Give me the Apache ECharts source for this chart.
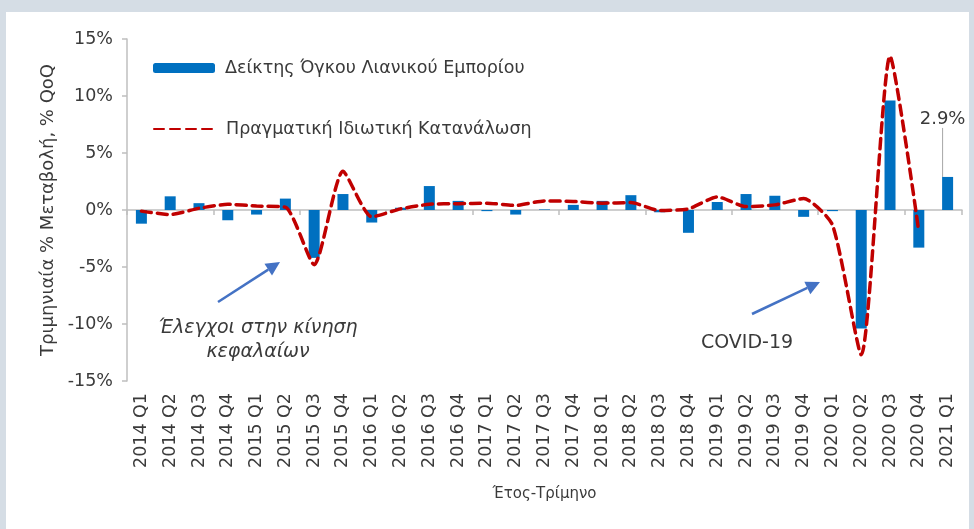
<!DOCTYPE html>
<html>
<head>
<meta charset="utf-8">
<script src="https://cdn.jsdelivr.net/npm/echarts@6/dist/echarts.min.js"></script>
<style>
  html, body { margin: 0; padding: 0; background: #d5dde5; }
  #main {
    position: absolute;
    left: 6px;
    top: 12px;
    width: 963px;
    height: 517px;
    background: #ffffff;
  }
</style>
</head>
<body>
<div id="main"></div>
<script>
// quarters
const quarters = [
  '2014 Q1', '2014 Q2', '2014 Q3', '2014 Q4',
  '2015 Q1', '2015 Q2', '2015 Q3', '2015 Q4',
  '2016 Q1', '2016 Q2', '2016 Q3', '2016 Q4',
  '2017 Q1', '2017 Q2', '2017 Q3', '2017 Q4',
  '2018 Q1', '2018 Q2', '2018 Q3', '2018 Q4',
  '2019 Q1', '2019 Q2', '2019 Q3', '2019 Q4',
  '2020 Q1', '2020 Q2', '2020 Q3', '2020 Q4',
  '2021 Q1'
]
// Δείκτης Όγκου Λιανικού Εμπορίου (% QoQ)
const retailVolume = [
  -1.2, 1.2, 0.6, -0.9,
  -0.4, 1.0, -4.2, 1.4,
  -1.1, 0.2, 2.1, 0.8,
  -0.1, -0.4, 0.05, 0.45,
  0.8, 1.3, -0.2, -2.0,
  0.7, 1.4, 1.25, -0.6,
  -0.1, -10.4, 9.6, -3.3,
  2.9
]
// Πραγματική Ιδιωτική Κατανάλωση (% QoQ)
const privateConsumption = [
  -0.1, -0.4, 0.15, 0.5,
  0.35, 0.25, -4.8, 3.4,
  -0.6, 0.1, 0.5, 0.55,
  0.6, 0.4, 0.8, 0.75,
  0.6, 0.65, -0.05, 0.1,
  1.15, 0.3, 0.45, 1.0,
  -1.3, -12.7, 13.5, -1.9,
  null
]
const yTicks = [-15, -10, -5, 0, 5, 10, 15]

const retailName = 'Δείκτης Όγκου Λιανικού Εμπορίου'
const consName = 'Πραγματική Ιδιωτική Κατανάλωση'
const font = '"DejaVu Sans", "Noto Sans", sans-serif'
const textColor = '#3a3a3a'
const lastIdx = retailVolume.length - 1

// arrow helper (annotation only)
function arrow(x1, y1, x2, y2) {
  const ang = Math.atan2(y2 - y1, x2 - x1)
  const len = 14, half = 7
  const bx = x2 - len * Math.cos(ang), by = y2 - len * Math.sin(ang)
  const px = -Math.sin(ang) * half, py = Math.cos(ang) * half
  return {
    type: 'group',
    children: [
      { type: 'line', shape: { x1: x1, y1: y1, x2: bx, y2: by },
        style: { stroke: '#4472c4', lineWidth: 2.5 } },
      { type: 'polygon', shape: { points: [[x2, y2], [bx + px, by + py], [bx - px, by - py]] },
        style: { fill: '#4472c4' } }
    ]
  }
}

const chart = echarts.init(document.getElementById('main'))

const retailData = retailVolume.map((v, i) => {
  if (i === lastIdx) {
    return {
      value: v,
      label: {
        show: true,
        position: 'top',
        formatter: v.toFixed(1) + '%',
        fontSize: 18,
        fontFamily: font,
        color: textColor
      }
    }
  }
  return v
})

chart.setOption({
  animation: false,
  textStyle: { fontFamily: font },
  grid: { left: 121, right: 7, top: 27, bottom: 148 },
  legend: [
    {
      left: 142, top: 42,
      itemWidth: 62, itemHeight: 10,
      data: [retailName],
      textStyle: { fontSize: 17.5, color: textColor, fontFamily: font, padding: [0, 0, 0, 5] }
    },
    {
      left: 142, top: 103,
      itemWidth: 62, itemHeight: 14,
      data: [consName],
      itemStyle: { color: 'transparent', borderWidth: 0 },
      textStyle: { fontSize: 17.5, color: textColor, fontFamily: font, padding: [0, 0, 0, 5] }
    }
  ],
  xAxis: [
    {
      type: 'category',
      data: quarters,
      position: 'bottom',
      axisLine: { show: false, onZero: false },
      axisTick: { show: false },
      axisLabel: {
        rotate: 90, fontSize: 17.5, color: textColor, margin: 12,
        fontFamily: font, interval: 0
      },
      name: 'Έτος-Τρίμηνο',
      nameLocation: 'middle',
      nameGap: 106,
      nameTextStyle: { fontSize: 15, color: textColor, fontFamily: font }
    },
    {
      type: 'category',
      data: quarters,
      position: 'top',
      axisLine: { show: true, onZero: true, lineStyle: { color: '#bfbfbf', width: 1.5 } },
      axisTick: { show: true, inside: true, length: 5, lineStyle: { color: '#bfbfbf', width: 1.5 } },
      axisLabel: { show: false }
    }
  ],
  yAxis: {
    type: 'value',
    min: yTicks[0],
    max: yTicks[yTicks.length - 1],
    interval: 5,
    axisLine: { show: true, lineStyle: { color: '#bfbfbf', width: 1.5 } },
    axisTick: { show: true, length: 5, lineStyle: { color: '#bfbfbf', width: 1.5 } },
    splitLine: { show: false },
    axisLabel: {
      formatter: v => v + '%',
      fontSize: 17.5, color: textColor, margin: 14, fontFamily: font
    },
    name: 'Τριμηνιαία % Μεταβολή, % QoQ',
    nameLocation: 'middle',
    nameRotate: 90,
    nameGap: 69,
    nameTextStyle: { fontSize: 18, color: textColor, fontFamily: font }
  },
  series: [
    {
      name: retailName,
      type: 'bar',
      xAxisIndex: 0,
      data: retailData,
      barWidth: 11,
      itemStyle: { color: '#0070c0' },
      labelLayout: p => (p.dataIndex === lastIdx ? { dy: -44, dx: -5 } : {}),
      labelLine: { show: true, lineStyle: { color: '#a6a6a6', width: 1 } }
    },
    {
      name: consName,
      type: 'line',
      xAxisIndex: 0,
      data: privateConsumption,
      smooth: 0.2,
      symbol: 'none',
      connectNulls: false,
      lineStyle: { color: '#c00000', width: 3.5, type: [10, 6], cap: 'round' },
      itemStyle: { color: '#c00000' },
      z: 3
    }
  ],
  graphic: [
    arrow(212, 290, 274, 250),
    arrow(746, 302, 814, 270),
    {
      type: 'text',
      style: {
        x: 252, y: 328, text: 'Έλεγχοι στην κίνηση\nκεφαλαίων',
        align: 'center', verticalAlign: 'middle',
        fontSize: 19, fontStyle: 'italic', lineHeight: 24,
        fontFamily: font, fill: textColor
      }
    },
    {
      type: 'text',
      style: {
        x: 741, y: 331, text: 'COVID-19',
        align: 'center', verticalAlign: 'middle',
        fontSize: 19, fontFamily: font, fill: textColor
      }
    }
  ]
})
</script>
</body>
</html>
